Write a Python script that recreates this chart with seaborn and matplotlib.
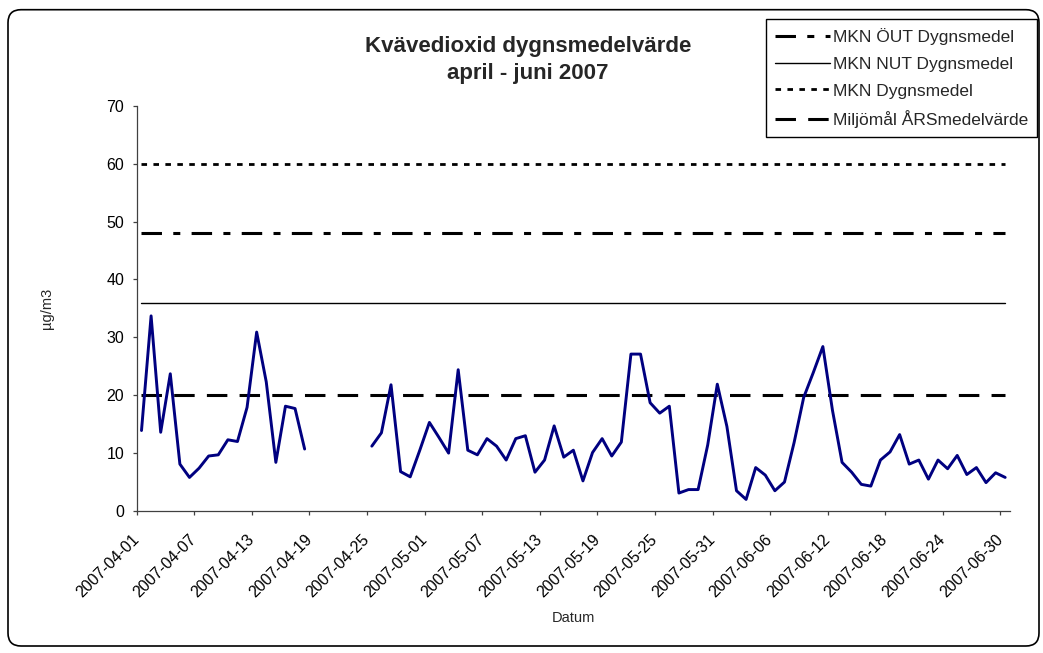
import numpy as np
import pandas as pd
import seaborn as sns
import matplotlib.pyplot as plt
from matplotlib.patches import FancyBboxPatch

# Dygnsmedelvärden NO2, 2007-04-01 .. 2007-06-30 (NaN = saknas)
datum = pd.date_range('2007-04-01', '2007-06-30', freq='D')
no2_april = [13.9, 33.7, 13.6, 23.7, 8.1, 5.8, 7.4, 9.5, 9.7, 12.3, 12.0, 17.9,
             30.9, 22.3, 8.4, 18.1, 17.7, 10.7]
no2_saknas = [np.nan] * 6
no2_resten = [11.2, 13.5, 21.8, 6.8, 5.9, 10.5, 15.3, 12.7, 10.0, 24.4, 10.5, 9.7,
              12.5, 11.2, 8.8, 12.5, 13.0, 6.7, 8.8, 14.7, 9.3, 10.5, 5.2, 10.1,
              12.5, 9.5, 11.9, 27.1, 27.1, 18.7, 16.9, 18.1, 3.1, 3.7, 3.7, 11.4,
              21.9, 14.6, 3.5, 2.0, 7.5, 6.2, 3.5, 5.0, 11.8, 19.6, 23.9, 28.4,
              17.4, 8.4, 6.7, 4.6, 4.3, 8.8, 10.2, 13.2, 8.1, 8.8, 5.5, 8.8,
              7.3, 9.6, 6.3, 7.5, 4.9, 6.6, 5.8]
no2 = no2_april + no2_saknas + no2_resten

# gränsvärden
gransnamn = ['MKN ÖUT Dygnsmedel', 'MKN NUT Dygnsmedel', 'MKN Dygnsmedel',
             'Miljömål ÅRSmedelvärde']
gransvarden = [48, 36, 60, 20]

sns.set_style('white')
plt.rcParams['font.family'] = ['Liberation Sans', 'DejaVu Sans']

W, H = 1043, 653
fig = plt.figure(figsize=(W / 100, H / 100), dpi=100)
ax = fig.add_axes([136.7 / W, 1 - 511 / H, (1010 - 136.7) / W, (511 - 105.7) / H])

df = pd.DataFrame({'dag': np.arange(len(datum)) + 0.5, 'NO2': no2})
df['del'] = df['NO2'].isna().cumsum()

# linjestilar för gränsvärdena
stilar = [(0, (6.7, 3.7, 2.3, 3.7)), '-', (0, (2.0, 2.3)), (0, (6.7, 4.0))]
bredder = [2.2, 1.0, 2.0, 2.2]

handtag = []
for namn, varde, stil, lw in zip(gransnamn, gransvarden, stilar, bredder):
    sns.lineplot(x=df['dag'], y=np.full(len(df), varde), color='black',
                 linestyle=stil, lw=lw, ax=ax)
    handtag.append(ax.lines[-1])

sns.lineplot(data=df.dropna(), x='dag', y='NO2', units='del', estimator=None,
             color='#000080', lw=2.1, ax=ax, legend=False)

ax.set_xlim(0, len(datum))
ax.set_ylim(0, 70)
ax.set_yticks(np.arange(0, 71, 10))
ax.set_xticks(np.arange(0, len(datum), 6))
ax.set_xticklabels(datum[::6].strftime('%Y-%m-%d'), rotation=45, ha='right',
                   va='center', rotation_mode='anchor')

sns.despine(ax=ax)
for s in ['left', 'bottom']:
    ax.spines[s].set_color('#404040')
    ax.spines[s].set_linewidth(0.9)
ax.tick_params(axis='both', bottom=True, left=True, direction='out', length=3,
               width=0.9, color='#404040', labelsize=11.5, labelcolor='black')
ax.tick_params(axis='x', pad=16)
ax.tick_params(axis='y', pad=6)

ax.set_xlabel('Datum', fontsize=10.5)
ax.set_ylabel('µg/m3', fontsize=10.5)
ax.xaxis.set_label_coords(0.5, (511 - 611) / 405.3)
ax.yaxis.set_label_coords((54 - 136.7) / 873.3, 0.5)

fig.text(0.506, 1 - 36 / H, 'Kvävedioxid dygnsmedelvärde\napril - juni 2007',
         ha='center', va='top', fontsize=16, fontweight='bold', linespacing=1.4)

leg = ax.legend(handtag, gransnamn, loc='upper left',
                bbox_to_anchor=(766 / W, 1 - 19 / H), bbox_transform=fig.transFigure,
                fontsize=12.5, frameon=True, fancybox=False, edgecolor='black',
                framealpha=1, borderaxespad=0, borderpad=0.5, labelspacing=0.68,
                handlelength=3.2, handletextpad=0.15)
leg.get_frame().set_linewidth(1.0)

# rundad ram runt hela diagrammet
ram = FancyBboxPatch((8 / W, 1 - 646 / H), (1039 - 8) / W, (646 - 9.7) / H,
                     boxstyle=f'round,pad=0,rounding_size={13 / W}',
                     mutation_aspect=W / H, transform=fig.transFigure,
                     fc='none', ec='black', lw=1.2, zorder=-1)
fig.patches.append(ram)

fig.savefig('out.png', dpi=100)
